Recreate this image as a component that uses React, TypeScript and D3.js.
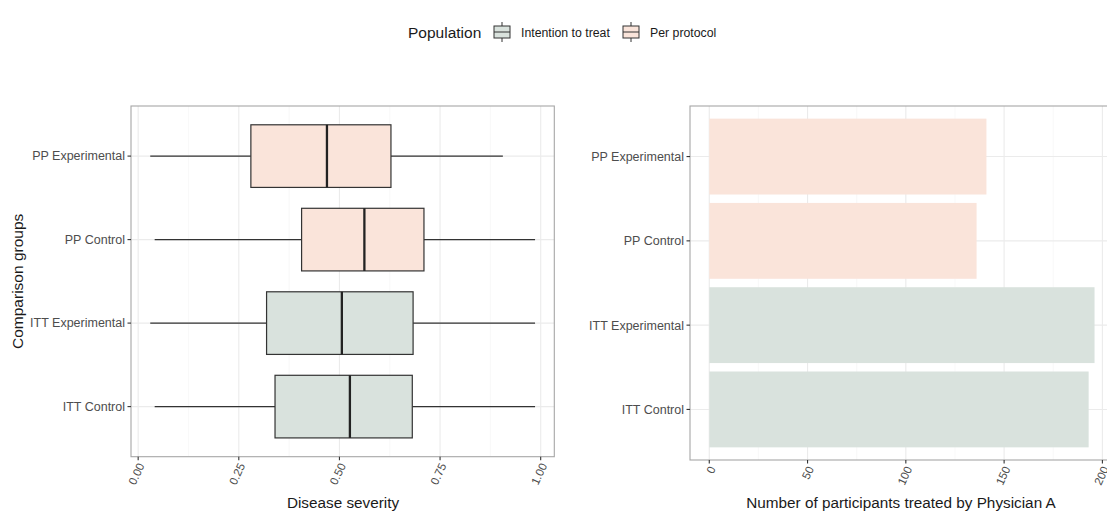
import React from "react";
import * as d3 from "d3";

const groups = ["ITT Control", "ITT Experimental", "PP Control", "PP Experimental"];
const population = ["ITT", "ITT", "PP", "PP"];
const whiskerLow = [0.041, 0.03, 0.041, 0.03];
const q1 = [0.34, 0.319, 0.406, 0.28];
const median = [0.526, 0.506, 0.562, 0.469];
const q3 = [0.681, 0.683, 0.71, 0.628];
const whiskerHigh = [0.986, 0.986, 0.986, 0.906];
const counts = [193, 196, 136, 141];
const severityTicks = [0, 0.25, 0.5, 0.75, 1];
const countTicks = [0, 50, 100, 150, 200];
const legendLabels = ["Intention to treat", "Per protocol"];

const FILL: Record<string, string> = { ITT: "#d9e2dd", PP: "#fae4da" };
const FONT = "'Liberation Sans', Arial, Helvetica, sans-serif";
const GRID = "#ebebeb";
const GRID_MINOR = "#f4f4f4";
const BORDER = "#a6a6a6";
const TEXT = "#4d4d4d";

function App() {
  // Left panel
  const L = { x0: 131, x1: 554.3, y0: 106, y1: 456.7 };
  const xL = d3.scaleLinear().domain([0.03 - 0.0478, 0.986 + 0.0478]).range([L.x0, L.x1]);
  const yL = d3.scalePoint<string>().domain(groups).range([L.y1, L.y0]).padding(0.6);
  const stepL = yL.step();
  // Right panel
  const R = { x0: 690, x1: 1200, y0: 106, y1: 460 };
  const maxC = d3.max(counts) as number;
  const xR = d3.scaleLinear().domain([-maxC * 0.05, maxC * 1.05]).range([R.x0, 1113.8]);
  const yR = d3.scalePoint<string>().domain(groups).range([R.y1, R.y0]).padding(0.6);
  const stepR = yR.step();

  const minorL = [0.125, 0.375, 0.625, 0.875];
  const minorR = [25, 75, 125, 175];

  return (
    <svg width={1107} height={529} style={{ position: "absolute", left: 0, top: 0, background: "#fff" }} fontFamily={FONT}>
      <rect x={0} y={0} width={1107} height={529} fill="#fff" />
      {/* Legend */}
      <text x={408} y={37.5} fontSize={15.5} fill="#1a1a1a">Population</text>
      {[502, 631].map((cx, i) => (
        <g key={i}>
          <line x1={cx} x2={cx} y1={22} y2={42} stroke="#333" strokeWidth={1} />
          <rect x={cx - 8} y={26} width={16} height={12} fill={FILL[i === 0 ? "ITT" : "PP"]} stroke="#333" strokeWidth={1} />
          <line x1={cx - 8} x2={cx + 8} y1={32} y2={32} stroke="#333" strokeWidth={1} />
          <text x={cx + 19} y={36.5} fontSize={12.3} fill="#1a1a1a">{legendLabels[i]}</text>
        </g>
      ))}

      {/* Left panel */}
      <g>
        {minorL.map((t) => (
          <line key={t} x1={xL(t)} x2={xL(t)} y1={L.y0} y2={L.y1} stroke={GRID_MINOR} strokeWidth={0.6} />
        ))}
        {severityTicks.map((t) => (
          <line key={t} x1={xL(t)} x2={xL(t)} y1={L.y0} y2={L.y1} stroke={GRID} strokeWidth={1.1} />
        ))}
        {groups.map((g) => (
          <line key={g} x1={L.x0} x2={L.x1} y1={yL(g)} y2={yL(g)} stroke={GRID} strokeWidth={1.1} />
        ))}
        {groups.map((g, i) => {
          const cy = yL(g) as number;
          const h = stepL * 0.75;
          return (
            <g key={g}>
              <line x1={xL(whiskerLow[i])} x2={xL(q1[i])} y1={cy} y2={cy} stroke="#333" strokeWidth={1.2} />
              <line x1={xL(q3[i])} x2={xL(whiskerHigh[i])} y1={cy} y2={cy} stroke="#333" strokeWidth={1.2} />
              <rect x={xL(q1[i])} y={cy - h / 2} width={xL(q3[i]) - xL(q1[i])} height={h}
                fill={FILL[population[i]]} stroke="#333" strokeWidth={1.2} />
              <line x1={xL(median[i])} x2={xL(median[i])} y1={cy - h / 2} y2={cy + h / 2} stroke="#222" strokeWidth={2.3} />
            </g>
          );
        })}
        <rect x={L.x0} y={L.y0} width={L.x1 - L.x0} height={L.y1 - L.y0} fill="none" stroke={BORDER} strokeWidth={1.1} />
        {severityTicks.map((t) => (
          <g key={t} transform={`translate(${xL(t)},${L.y1})`}>
            <line y1={0} y2={3.5} stroke="#333" strokeWidth={1.1} />
            <text transform="translate(3,7) rotate(-65)" textAnchor="end" dy="0.35em" fontSize={11.5} fill={TEXT}>
              {d3.format(".2f")(t)}
            </text>
          </g>
        ))}
        {groups.map((g) => (
          <g key={g} transform={`translate(${L.x0},${yL(g)})`}>
            <line x1={-3.5} x2={0} stroke="#333" strokeWidth={1.1} />
            <text x={-6} dy="0.35em" textAnchor="end" fontSize={12.5} fill={TEXT}>{g}</text>
          </g>
        ))}
        <text x={343} y={508} textAnchor="middle" fontSize={15.3} fill="#1a1a1a">Disease severity</text>
        <text transform={`translate(23,${(L.y0 + L.y1) / 2}) rotate(-90)`} textAnchor="middle" fontSize={15.5} fill="#1a1a1a">
          Comparison groups
        </text>
      </g>

      {/* Right panel */}
      <g>
        {minorR.map((t) => (
          <line key={t} x1={xR(t)} x2={xR(t)} y1={R.y0} y2={R.y1} stroke={GRID_MINOR} strokeWidth={0.6} />
        ))}
        {countTicks.map((t) => (
          <line key={t} x1={xR(t)} x2={xR(t)} y1={R.y0} y2={R.y1} stroke={GRID} strokeWidth={1.1} />
        ))}
        {groups.map((g) => (
          <line key={g} x1={R.x0} x2={1107} y1={yR(g)} y2={yR(g)} stroke={GRID} strokeWidth={1.1} />
        ))}
        {groups.map((g, i) => {
          const cy = yR(g) as number;
          const h = stepR * 0.9;
          return (
            <rect key={g} x={xR(0)} y={cy - h / 2} width={xR(counts[i]) - xR(0)} height={h} fill={FILL[population[i]]} />
          );
        })}
        <rect x={R.x0} y={R.y0} width={R.x1 - R.x0} height={R.y1 - R.y0} fill="none" stroke={BORDER} strokeWidth={1.1} />
        {countTicks.map((t) => (
          <g key={t} transform={`translate(${xR(t)},${R.y1})`}>
            <line y1={0} y2={3.5} stroke="#333" strokeWidth={1.1} />
            <text transform="translate(3,7) rotate(-65)" textAnchor="end" dy="0.35em" fontSize={11.5} fill={TEXT}>
              {t}
            </text>
          </g>
        ))}
        {groups.map((g) => (
          <g key={g} transform={`translate(${R.x0},${yR(g)})`}>
            <line x1={-3.5} x2={0} stroke="#333" strokeWidth={1.1} />
            <text x={-6} dy="0.35em" textAnchor="end" fontSize={12.5} fill={TEXT}>{g}</text>
          </g>
        ))}
        <text x={901} y={508} textAnchor="middle" fontSize={15.3} fill="#1a1a1a">Number of participants treated by Physician A</text>
      </g>
    </svg>
  );
}

export default App;
